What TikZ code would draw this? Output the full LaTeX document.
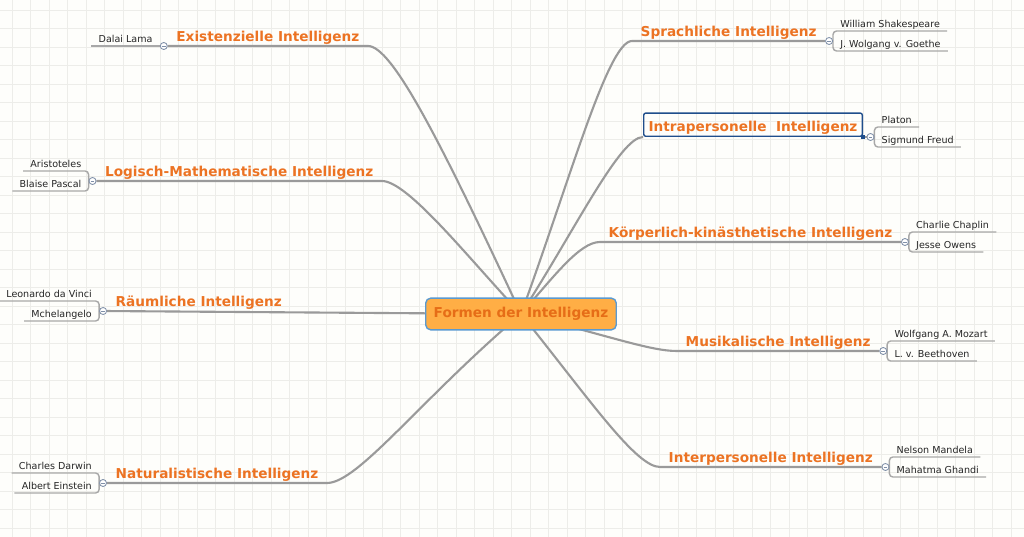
\documentclass[tikz,border=0pt]{standalone}
\usepackage{fontspec}
\setmainfont{DejaVu Sans}
\usetikzlibrary{positioning}
\usetikzlibrary{backgrounds}
\definecolor{paper}{HTML}{FEFEFB}
\definecolor{paperline}{HTML}{EDEDE9}
\definecolor{rootfill}{HTML}{FFAE45}
\definecolor{rootrim}{HTML}{5A9AD0}
\definecolor{rootink}{HTML}{E66D17}
\definecolor{topicink}{HTML}{EC7323}
\definecolor{pickrim}{HTML}{1F4E8C}
\definecolor{limbgray}{HTML}{9A9A9A}
\definecolor{twiggray}{HTML}{A8A8A8}
\definecolor{togglerim}{HTML}{8090A8}
\tikzstyle{root} = [rectangle, rounded corners=3.5pt, fill=rootfill, draw=rootrim,
line width=1pt, text=rootink, font=\fontsize{9.7}{11}\selectfont\bfseries,
minimum width=135.5pt, minimum height=22.5pt, inner sep=0pt]
\tikzstyle{topic} = [rectangle, inner xsep=6pt, inner ysep=2.8pt, text depth=0pt,
text=topicink, font=\fontsize{9.7}{11}\selectfont\bfseries]
\tikzstyle{picked} = [topic, draw=pickrim, line width=1pt, rounded corners=1.5pt,
inner xsep=3.5pt, inner ysep=3.5pt, text height=9.5pt]
\tikzstyle{leaf} = [rectangle, inner xsep=5pt, inner ysep=2.1pt, text depth=0pt,
font=\fontsize{6.8}{8}\selectfont, text=black!85]
\tikzstyle{toggle} = [circle, draw=togglerim, fill=white, line width=0.6pt,
minimum size=5pt, inner sep=0pt, path picture={
\draw[togglerim, line width=0.5pt] ([xshift=-1.3pt]path picture bounding box.center)
-- ([xshift=1.3pt]path picture bounding box.center);}]
\tikzstyle{limb} = [draw=limbgray, line width=1.5pt]
\tikzstyle{twig} = [draw=twiggray, line width=1pt, rounded corners=2.5pt]
\tikzstyle{paperrule} = [draw=paperline, line width=0.5pt]
\newcommand{\twig}[3][east]{ %
  % Connect toggle #2 to the underline of every leaf in #3.
  \foreach \y in {#3} { %
    \path[twig] (#2.#1) |- (\y.south #1) ;%
  } ;
}

\begin{document}
\begin{tikzpicture}[x=0.025cm, y=-0.025cm]
\useasboundingbox (0,0) rectangle (1024,537);
\begin{scope}[on background layer]
\fill[paper] (0,0) rectangle (1024,537);
\foreach \i in {0,...,54} \path[paperrule] ({12+18.5*\i},0) -- ({12+18.5*\i},537);
\foreach \j in {0,...,28} \path[paperrule] (0,{10+18.5*\j}) -- (1024,{10+18.5*\j});
\end{scope}

\node[root] (root) at (521,314) {Formen der Intelligenz};

% left side
\node[topic, anchor=south east] (ex) at (368,46) {Existenzielle Intelligenz};
\node[toggle, left=0pt of ex.south west] (ex-t) {};
\node[leaf, anchor=south east] (ex1) at (ex-t.west) {Dalai Lama};

\node[topic, anchor=south east] (lm) at (382,181) {Logisch-Mathematische Intelligenz};
\node[toggle, left=0pt of lm.south west] (lm-t) {};
\node[leaf, anchor=south east] (lm1) at ([shift={(0,-10)}]lm-t.west) {Aristoteles};
\node[leaf, anchor=south east] (lm2) at ([shift={(0,10)}]lm-t.west) {Blaise Pascal};

\node[topic, anchor=south west] (rm) at (107,311) {Räumliche Intelligenz};
\node[toggle, left=0pt of rm.south west] (rm-t) {};
\node[leaf, anchor=south east] (rm1) at ([shift={(0,-10)}]rm-t.west) {Leonardo da Vinci};
\node[leaf, anchor=south east] (rm2) at ([shift={(0,10)}]rm-t.west) {Mchelangelo};

\node[topic, anchor=south east] (nt) at (327,483) {Naturalistische Intelligenz};
\node[toggle, left=0pt of nt.south west] (nt-t) {};
\node[leaf, anchor=south east] (nt1) at ([shift={(0,-10)}]nt-t.west) {Charles Darwin};
\node[leaf, anchor=south east] (nt2) at ([shift={(0,10)}]nt-t.west) {Albert Einstein};

% right side
\node[topic, anchor=south west] (sp) at (632,41) {Sprachliche Intelligenz};
\node[toggle, right=0pt of sp.south east] (sp-t) {};
\node[leaf, anchor=south west] (sp1) at ([shift={(0,-10)}]sp-t.east) {William Shakespeare};
\node[leaf, anchor=south west] (sp2) at ([shift={(0,10)}]sp-t.east) {J. Wolgang v. Goethe};

\node[picked, anchor=south west] (ip) at (643,137) {Intrapersonelle~ Intelligenz};
\node[toggle, right=2.5pt of ip.south east] (ip-t) {};
\fill[pickrim] ([shift={(-1.5pt,-1.5pt)}]ip.south east) rectangle ++(3pt,3pt);
\node[leaf, anchor=south west] (ip1) at ([shift={(0,-10)}]ip-t.east) {Platon};
\node[leaf, anchor=south west] (ip2) at ([shift={(0,10)}]ip-t.east) {Sigmund Freud};

\node[topic, anchor=south west] (kp) at (600,242) {Körperlich-kinästhetische Intelligenz};
\node[toggle, right=0pt of kp.south east] (kp-t) {};
\node[leaf, anchor=south west] (kp1) at ([shift={(0,-10)}]kp-t.east) {Charlie Chaplin};
\node[leaf, anchor=south west] (kp2) at ([shift={(0,10)}]kp-t.east) {Jesse Owens};

\node[topic, anchor=south west] (mu) at (677,351) {Musikalische Intelligenz};
\node[toggle, right=0pt of mu.south east] (mu-t) {};
\node[leaf, anchor=south west] (mu1) at ([shift={(0,-10)}]mu-t.east) {Wolfgang A. Mozart};
\node[leaf, anchor=south west] (mu2) at ([shift={(0,10)}]mu-t.east) {L. v. Beethoven};

\node[topic, anchor=south west] (ix) at (660,467) {Interpersonelle Intelligenz};
\node[toggle, right=0pt of ix.south east] (ix-t) {};
\node[leaf, anchor=south west] (ix1) at ([shift={(0,-10)}]ix-t.east) {Nelson Mandela};
\node[leaf, anchor=south west] (ix2) at ([shift={(0,10)}]ix-t.east) {Mahatma Ghandi};

\begin{scope}[on background layer]
\path[limb] (root.center) .. controls (440,140) and (392,46) .. (ex.south east) -- (ex-t);
\path[limb] (root.center) .. controls (470,260) and (408,181) .. (lm.south east) -- (lm-t);
\path[limb] (root.center) -- (rm-t);
\path[limb] (root.center) .. controls (420,400) and (358,483) .. (nt.south east) -- (nt-t);
\path[limb] (root.center) .. controls (570,180) and (608,41) .. (sp.south west) -- (sp-t);
\path[limb] (root.center) .. controls (575,230) and (620,137) .. (ip.south west);
\path[limb] (ip.south east) -- (ip-t);
\path[limb] (root.center) .. controls (555,275) and (580,242) .. (kp.south west) -- (kp-t);
\path[limb] (root.center) .. controls (610,336) and (650,351) .. (mu.south west) -- (mu-t);
\path[limb] (root.center) .. controls (590,400) and (636,467) .. (ix.south west) -- (ix-t);

\path[twig] (ex-t.west) -- (ex1.south west);
\twig[west] {lm-t} {lm1,lm2}
\twig[west] {rm-t} {rm1,rm2}
\twig[west] {nt-t} {nt1,nt2}
\twig {sp-t} {sp1,sp2}
\twig {ip-t} {ip1,ip2}
\twig {kp-t} {kp1,kp2}
\twig {mu-t} {mu1,mu2}
\twig {ix-t} {ix1,ix2}
\end{scope}
\end{tikzpicture}
\end{document}
